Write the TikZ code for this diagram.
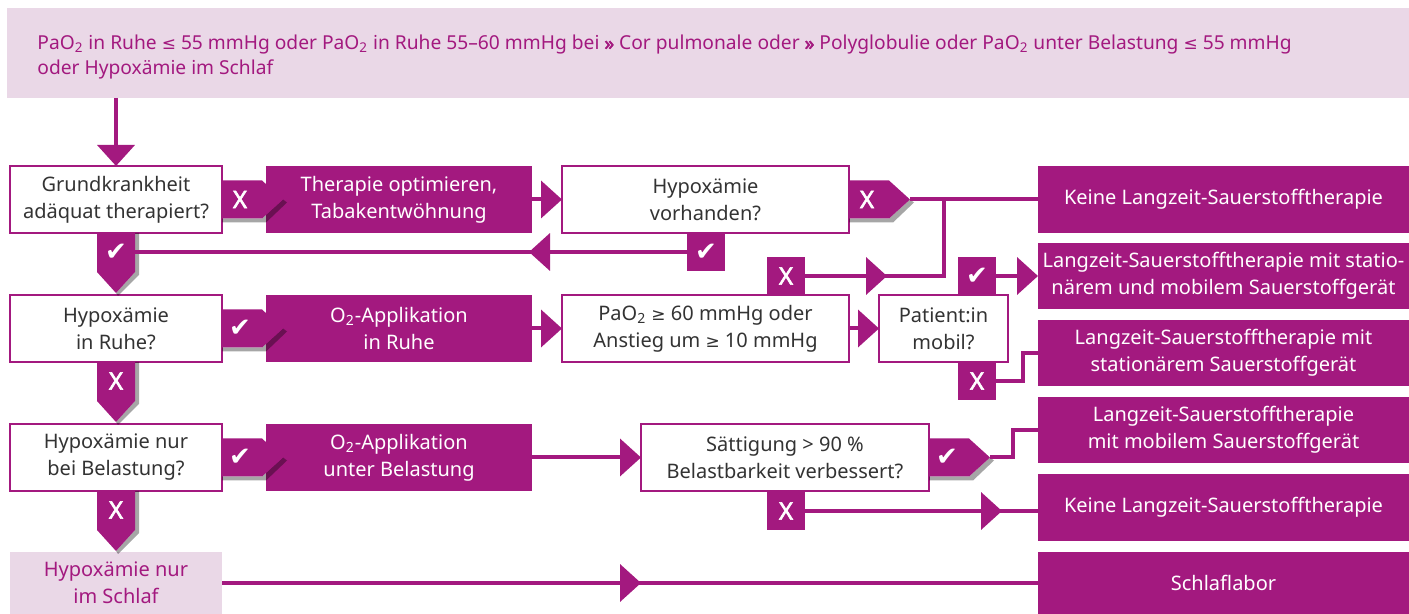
\documentclass[tikz,border=0pt]{standalone}
\usepackage{fontspec}
\setmainfont{Noto Sans}
\newfontfamily\symf{DejaVu Sans}
\newfontfamily\nsbold{Noto Sans}[FakeBold=2.5]
\usetikzlibrary{arrows.meta}
\definecolor{mag}{RGB}{163,25,127}
\definecolor{lpink}{RGB}{234,216,231}
\definecolor{txtgray}{RGB}{51,51,51}
\tikzset{
  base/.style={inner sep=0pt, outer sep=0pt, align=center, font=\fontsize{10}{13.5}\selectfont},
  qbox/.style={base, draw=mag, line width=1pt, fill=white, text=txtgray},
  abox/.style={base, fill=mag, text=white},
  pbox/.style={base, fill=lpink, text=mag},
  tabfill/.style={fill=mag},
  tabshadow/.style={fill=black, opacity=0.35},
  lbl/.style={text=white, inner sep=0pt, font=\nsbold\fontsize{12}{13}\selectfont},
  sqtab/.style={lbl, fill=mag, minimum width=19pt, minimum height=19pt},
  conn/.style={draw=mag, line width=2pt},
  arr/.style={conn, -{Triangle[length=10.5pt, width=18.5pt]}},
  ttext/.style={inner sep=0pt, text=mag, font=\fontsize{9.6}{13}\selectfont},
}
\newcommand\chk{{\symf\fontsize{13}{14}\selectfont ✔}}
\newcommand\lesym{{\symf\fontsize{8.5}{10}\selectfont ≤}}
\newcommand\gesym{{\symf\fontsize{8.5}{10}\selectfont ≥}}
\newcommand\mkbox[7]{%
  \pgfmathsetmacro\myw{(#5-#3)*0.5}\pgfmathsetmacro\myh{(#6-#4)*0.5}%
  \node[#2, minimum width=\myw pt, minimum height=\myh pt] (#1) at ({(#3+#5)/2},{(#4+#6)/2}) {#7};}
\newcommand\rtab[4]{%
  \fill[tabshadow] (#2,#3+19) -- (#2+40,#3+19) -- (#2+61,#3) -- (#2+65,#3+3) -- (#2+44,#3+23) -- (#2,#3+23) -- cycle;
  \fill[tabfill] (#2,#3-19) -- (#2+40,#3-19) -- (#2+61,#3) -- (#2+40,#3+19) -- (#2,#3+19) -- cycle;
  \node[lbl] (#1) at (#2+18,#3) {#4};
  \coordinate (#1-tip) at (#2+61,#3);}
\newcommand\dtab[4]{%
  \fill[tabshadow] (#2+19,#3) -- (#2+23,#3) -- (#2+23,#3+42) -- (#2+2,#3+63) -- (#2,#3+60) -- (#2+19,#3+39) -- cycle;
  \fill[tabfill] (#2-19,#3) -- (#2+19,#3) -- (#2+19,#3+39) -- (#2,#3+60) -- (#2-19,#3+39) -- cycle;
  \node[lbl] (#1) at (#2,#3+19) {#4};
  \coordinate (#1-e) at (#2+19,#3+19);}
\begin{document}
\begin{tikzpicture}[x=0.5pt,y=-0.5pt]
\useasboundingbox (0,0) rectangle (1409,614);
% banner
\node[fill=lpink, minimum width=701pt, minimum height=45pt, inner sep=0pt, outer sep=0pt, anchor=north west] (banner) at (7,8) {};
\node[ttext, anchor=base west] (t1) at (37,50) {PaO\textsubscript{2} in Ruhe \lesym{} 55 mmHg oder PaO\textsubscript{2} in Ruhe 55–60 mmHg bei {\nsbold »} Cor pulmonale oder {\nsbold »} Polyglobulie oder PaO\textsubscript{2} unter Belastung \lesym{} 55 mmHg};
\node[ttext, anchor=base west] (t2) at (37,75) {oder Hypoxämie im Schlaf};
% boxes
\mkbox{A}{qbox}{10}{166}{222}{233}{Grundkrankheit\\adäquat therapiert?}
\mkbox{B}{abox}{266}{166}{532}{233}{Therapie optimieren,\\Tabakentwöhnung}
\mkbox{C}{qbox}{562}{166}{849}{233}{Hypoxämie\\vorhanden?}
\mkbox{D}{abox}{1038}{166}{1409}{233}{Keine Langzeit-Sauerstofftherapie}
\mkbox{E}{qbox}{10}{295}{222}{362}{Hypoxämie\\in Ruhe?}
\mkbox{F}{abox}{266}{295}{532}{362}{O\textsubscript{2}-Applikation\\in Ruhe}
\mkbox{G}{qbox}{562}{295}{849}{362}{PaO\textsubscript{2} \gesym{} 60 mmHg oder\\Anstieg um \gesym{} 10 mmHg}
\mkbox{H}{qbox}{879}{295}{1008}{362}{Patient:in\\mobil?}
\mkbox{I}{abox}{1038}{243}{1409}{309}{Langzeit-Sauerstofftherapie mit statio-\\närem und mobilem Sauerstoffgerät}
\mkbox{J}{abox}{1038}{320}{1409}{386}{Langzeit-Sauerstofftherapie mit\\stationärem Sauerstoffgerät}
\mkbox{K}{qbox}{10}{424}{222}{491}{Hypoxämie nur\\bei Belastung?}
\mkbox{L}{abox}{266}{424}{532}{491}{O\textsubscript{2}-Applikation\\unter Belastung}
\mkbox{M}{qbox}{641}{424}{929}{491}{Sättigung > 90 \%\\Belastbarkeit verbessert?}
\mkbox{N}{abox}{1038}{397}{1409}{463}{Langzeit-Sauerstofftherapie\\mit mobilem Sauerstoffgerät}
\mkbox{O}{abox}{1038}{474}{1409}{541}{Keine Langzeit-Sauerstofftherapie}
\mkbox{P}{pbox}{10}{552}{222}{614}{Hypoxämie nur\\im Schlaf}
\mkbox{Q}{abox}{1038}{552}{1409}{614}{Schlaflabor}
% pointed tabs
\rtab{xA}{222}{199.5}{X}
\rtab{xC}{849}{199.5}{X}
\rtab{cE}{222}{328.5}{\chk}
\rtab{cK}{222}{457.5}{\chk}
\rtab{cM}{929}{457.5}{\chk}
\dtab{cA}{116}{233}{\chk}
\dtab{xE}{116}{362}{X}
\dtab{xK}{116}{491}{X}
% square tabs
\node[sqtab] (cC) at (706,252) {\chk};
\node[sqtab] (xG) at (786,276) {X};
\node[sqtab] (cH) at (977,276) {\chk};
\node[sqtab] (xH) at (977,381) {X};
\node[sqtab] (xM) at (786,511) {X};
% connectors
\draw[arr] (A.north |- banner.south) -- (A.north);
\draw[arr] (B.east) -- (C.west);
\coordinate (jA) at (944,199.5);
\coordinate (jB) at (944,276);
\draw[conn] (xC-tip) -- (D.west |- xC-tip);
\draw[conn] (xG.east) -- (jB) -- (jA);
\coordinate (aG) at (887,276);
\draw[arr] (xG.east) -- (aG);
\draw[conn] (cC.west) -- (cA-e);
\coordinate (aC) at (529,252);
\draw[arr] (cC.west) -- (aC);
\draw[arr] (F.east) -- (G.west);
\draw[arr] (G.east) -- (H.west);
\draw[arr] (cH.east) -- (I.west |- cH.east);
\coordinate (jJ) at (1023,353);
\draw[conn] (xH.east) -| (jJ) -- (J.west);
\draw[arr] (L.east) -- (M.west);
\coordinate (jN) at (1013,430);
\draw[conn] (cM-tip) -| (jN) -- (N.west);
\draw[conn] (xM.east) -- (O.west |- xM.east);
\coordinate (aM) at (1002,511);
\draw[arr] (xM.east) -- (aM);
\draw[conn] (P.east) -- (Q.west);
\coordinate (aP) at (641,583);
\draw[arr] (P.east) -- (aP);
\end{tikzpicture}
\end{document}
